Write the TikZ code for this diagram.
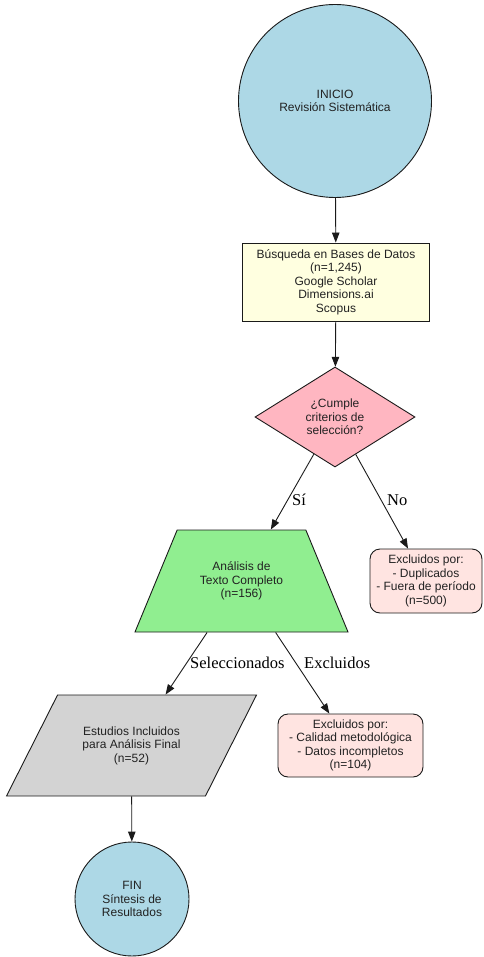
\documentclass[tikz,border=0pt]{standalone}
\usepackage{fontspec}
\setmainfont{Liberation Sans}
\newfontfamily\lblfont{Liberation Serif}
\usetikzlibrary{shapes.geometric,arrows.meta}
\definecolor{cblue}{HTML}{ADD8E6}
\definecolor{cyellow}{HTML}{FFFFE0}
\definecolor{cpink}{HTML}{FFB6C1}
\definecolor{cgreen}{HTML}{90EE90}
\definecolor{crose}{HTML}{FFE4E1}
\definecolor{cgray}{HTML}{D3D3D3}
\definecolor{cline}{HTML}{1A1A1A}
\definecolor{ctext}{HTML}{222222}
\tikzset{
  base/.style={draw=cline, line width=0.9pt, text=ctext, align=center, inner sep=0pt,
    font=\fontsize{12}{13.5}\selectfont},
  startend/.style={base, circle},
  datab/.style={base, rectangle},
  decis/.style={base, diamond, aspect=1.6},
  trap/.style={base, trapezium, trapezium stretches body=true, inner xsep=0pt},
  exclb/.style={base, rectangle, rounded corners=10pt},
  conn/.style={draw=cline, line width=0.9pt, -{Triangle[length=10pt,width=7.5pt]}},
  lbl/.style={inner sep=0pt, anchor=west, text=black, font=\lblfont\fontsize{16.5}{18}\selectfont}
}
\begin{document}
\begin{tikzpicture}[x=1pt,y=-1pt]
\useasboundingbox (0,0) rectangle (483,957);
\node[startend, fill=cblue, minimum size=193pt] (ini) at (335,101) {INICIO\\Revisión Sistemática};
\node[datab, fill=cyellow, minimum width=187pt, minimum height=78pt] (db) at (336,282)
  {Búsqueda en Bases de Datos\\(n=1,245)\\Google Scholar\\Dimensions.ai\\Scopus};
\node[decis, fill=cpink, minimum width=160pt, minimum height=100pt] (dec) at (335,417)
  {¿Cumple\\criterios de\\selección?};
\node[trap, fill=cgreen, trapezium left angle=67, trapezium right angle=67,
  inner ysep=30.5pt, minimum width=213pt, minimum height=102pt] (tx) at (241.5,581)
  {Análisis de\\Texto Completo\\(n=156)};
\node[exclb, fill=crose, minimum width=112pt, minimum height=64pt] (ex1) at (426,581)
  {Excluidos por:\\- Duplicados\\- Fuera de período\\(n=500)};
\node[trap, fill=cgray, trapezium left angle=63, trapezium right angle=117,
  inner ysep=31pt, minimum width=250pt, minimum height=101pt] (inc) at (131.5,745.5)
  {Estudios Incluidos\\para Análisis Final\\(n=52)};
\node[exclb, fill=crose, minimum width=145pt, minimum height=63pt] (ex2) at (350.5,745.5)
  {Excluidos por:\\- Calidad metodológica\\- Datos incompletos\\(n=104)};
\node[startend, fill=cblue, minimum size=114pt] (fin) at (132,899) {FIN\\Síntesis de\\Resultados};

\draw[conn] (ini) -- (db);
\draw[conn] (db) -- (dec);
\draw[conn] (dec) -- (tx);
\draw[conn] (dec) -- (ex1);
\draw[conn] (tx) -- (inc);
\draw[conn] (tx) -- (ex2);
\draw[conn] (inc) -- (fin);

\node[lbl] (lsi) at (292,500) {Sí};
\node[lbl] (lno) at (387,500) {No};
\node[lbl] (lsel) at (190,663) {Seleccionados};
\node[lbl] (lexc) at (304,663) {Excluidos};
\end{tikzpicture}
\end{document}
